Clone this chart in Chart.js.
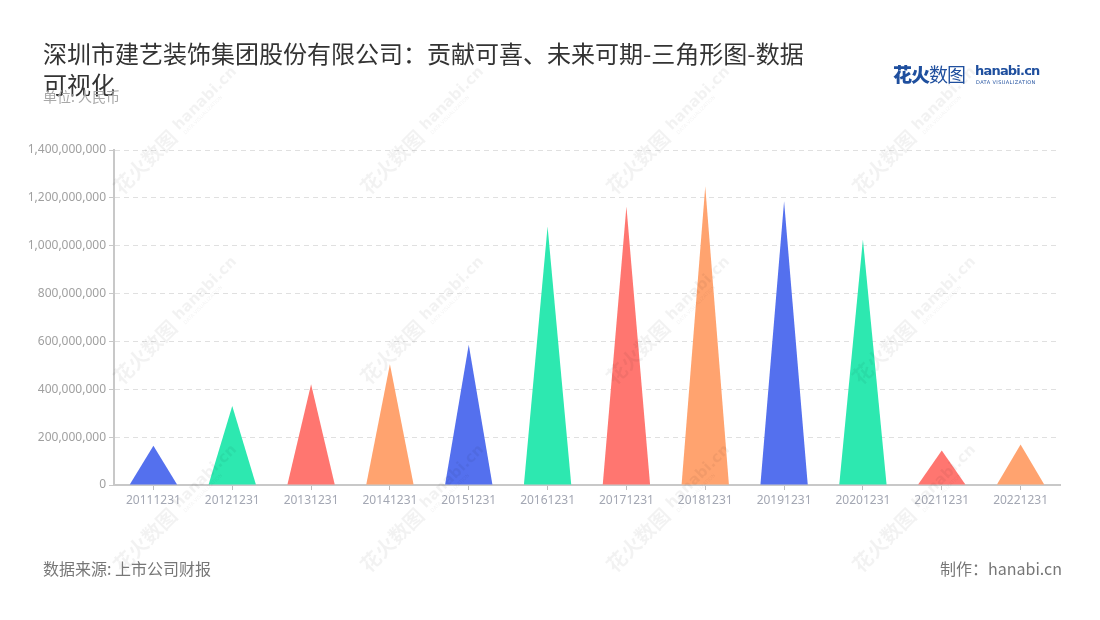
<!DOCTYPE html>
<html>
<head>
<meta charset="utf-8">
<script src="https://cdn.jsdelivr.net/npm/chart.js@4/dist/chart.umd.min.js"></script>
<style>
  body { margin: 0; background: #fff; font-family: "Noto Sans CJK SC", "Noto Sans", sans-serif; }
  #wrap { position: relative; width: 1100px; height: 620px; overflow: hidden; }
  #chart { position: absolute; left: 0; top: 0; }
  .title { position: absolute; left: 43px; top: 37px; width: 770px; font-size: 24px; line-height: 31px; color: #333; }
  .unit { position: absolute; left: 43px; top: 86px; font-size: 14px; color: #a8a8a8; }
  .foot { position: absolute; top: 556px; font-size: 16px; color: #777; }
  .logo { position: absolute; left: 893px; top: 60px; color: #1f4f9e; white-space: nowrap; }
  .logo .cn { font-size: 19px; letter-spacing: -1px; }
  .logo .cn b { font-weight: 900; }
  .logo .en { position: absolute; left: 82px; top: 3px; font-family: "DejaVu Sans"; font-size: 13px; font-weight: 700; letter-spacing: -0.8px; }
  .logo .sub { position: absolute; left: 83px; top: 19px; font-family: "DejaVu Sans"; font-size: 5px; letter-spacing: 0.4px; }
</style>
</head>
<body>
<div id="wrap">
  <canvas id="chart" width="1100" height="620"></canvas>
  <div class="title">深圳市建艺装饰集团股份有限公司：贡献可喜、未来可期-三角形图-数据可视化</div>
  <div class="unit">单位: 人民币</div>
  <div class="logo"><span class="cn"><b>花火</b>数图</span><span class="en">hanabi.cn</span><span class="sub">DATA VISUALIZATION</span></div>
  <div class="foot" style="left:43px">数据来源: 上市公司财报</div>
  <div class="foot" style="right:38px">制作：hanabi.cn</div>
</div>
<script>
var categories = ['20111231', '20121231', '20131231', '20141231', '20151231', '20161231',
                  '20171231', '20181231', '20191231', '20201231', '20211231', '20221231'];
var values = [164e6, 330e6, 421e6, 505e6, 586e6, 1080e6, 1164e6, 1247e6, 1186e6, 1026e6, 144e6, 169e6];
var palette = ['#5470ee', '#2de8b0', '#ff7670', '#ffa36f'];
var colors = categories.map(function (c, i) { return palette[i % palette.length]; });

// draw each bar as a triangle from its element geometry
var triangles = {
  id: 'triangles',
  beforeDatasetDraw: function (chart, args) {
    var ctx = chart.ctx;
    var meta = args.meta;
    ctx.save();
    meta.data.forEach(function (bar, i) {
      var p = bar.getProps(['x', 'y', 'base', 'width'], true);
      ctx.beginPath();
      ctx.moveTo(p.x - p.width / 2, p.base);
      ctx.lineTo(p.x, p.y);
      ctx.lineTo(p.x + p.width / 2, p.base);
      ctx.closePath();
      ctx.fillStyle = colors[i];
      ctx.fill();
    });
    ctx.restore();
    return false;
  }
};

var watermark = {
  id: 'watermark',
  afterDraw: function (chart) {
    var ctx = chart.ctx;
    var cols = [145, 392, 638, 884];
    var rows = [162, 352, 540];
    ctx.save();
    ctx.fillStyle = 'rgba(0,0,0,0.05)';
    ctx.textBaseline = 'middle';
    rows.forEach(function (cy) {
      cols.forEach(function (cx) {
        ctx.save();
        ctx.translate(cx, cy);
        ctx.rotate(-Math.PI / 4);
        ctx.font = 'bold 20px "Noto Sans CJK SC"';
        ctx.fillText('花火数图', -40, 0);
        ctx.font = 'bold 15px "DejaVu Sans"';
        ctx.fillText('hanabi.cn', 46, -2);
        ctx.font = '5px "DejaVu Sans"';
        ctx.fillText('DATA VISUALIZATION', 48, 8);
        ctx.restore();
      });
    });
    ctx.restore();
  }
};

new Chart(document.getElementById('chart'), {
  type: 'bar',
  data: {
    labels: categories,
    datasets: [{
      data: values,
      backgroundColor: colors,
      barPercentage: 0.6,
      categoryPercentage: 1
    }]
  },
  options: {
    responsive: false,
    animation: false,
    devicePixelRatio: 1,
    layout: { padding: { left: 0, right: 40, top: 150, bottom: 105 } },
    plugins: { legend: { display: false }, tooltip: { enabled: false }, title: { display: false } },
    scales: {
      x: {
        afterFit: function (s) { s.height = 30; },
        grid: { offset: false, drawOnChartArea: false, drawTicks: true, tickLength: 5, tickColor: '#bbb' },
        border: { color: '#c8c8c8', width: 2 },
        ticks: { color: '#a3a7b3', font: { size: 12, family: '"Noto Sans"' }, padding: 3, maxRotation: 0 }
      },
      y: {
        min: 0,
        max: 1400000000,
        afterFit: function (s) { s.width = 114; },
        grid: { color: '#e0e0e0', tickBorderDash: [], tickColor: '#c8c8c8', tickLength: 5 },
        border: { color: '#c8c8c8', width: 2, dash: [5, 4] },
        ticks: {
          stepSize: 200000000,
          color: '#a0a0a0',
          padding: 3,
          font: { size: 12, family: '"Noto Sans"' },
          callback: function (v) { return Number(v).toLocaleString('en-US'); }
        }
      }
    }
  },
  plugins: [triangles, watermark]
});
</script>
</body>
</html>
